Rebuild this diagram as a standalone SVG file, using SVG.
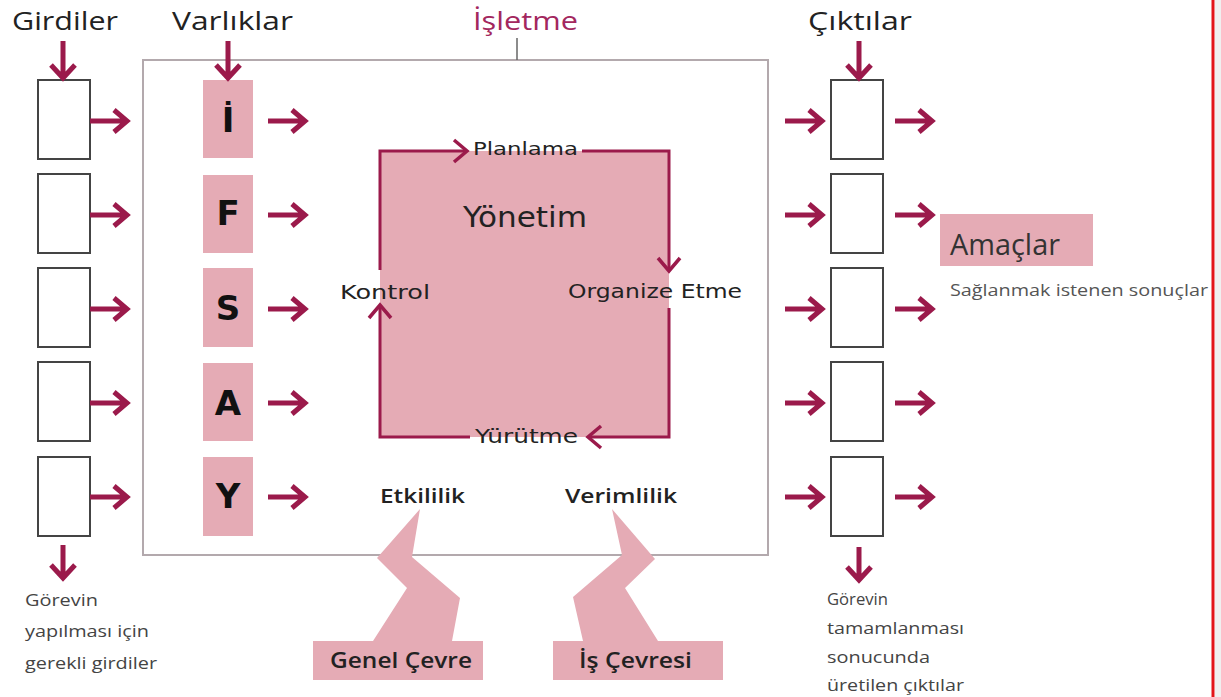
<svg xmlns="http://www.w3.org/2000/svg" xmlns:xlink="http://www.w3.org/1999/xlink" width="1221" height="697" viewBox="0 0 1221 697">
<style>
.arw{fill:none;stroke:#9b1a4b;stroke-width:5;stroke-linejoin:miter;stroke-linecap:butt}
.arwt{fill:none;stroke:#9b1a4b;stroke-width:3.5;stroke-linejoin:miter}
.box{fill:#fff;stroke:#444;stroke-width:2}
.pink{fill:#e5abb5}
.hd{font-family:"Open Sans","Liberation Sans",sans-serif;font-size:26px;fill:#222}
.let{font-family:"DejaVu Sans",Verdana,sans-serif;font-weight:bold;font-size:34px;fill:#111;text-anchor:middle}
.mg{font-family:"DejaVu Sans",Verdana,sans-serif;font-size:19px;fill:#222}
.lab{font-family:"Open Sans","Liberation Sans",sans-serif;font-weight:600;font-size:20px;fill:#222}
.sm{font-family:"Open Sans","Liberation Sans",sans-serif;font-size:16px;fill:#444}
.sq{fill:none;stroke:#9b1a4b;stroke-width:3}
</style>
<defs>
<path id="arrR" class="arw" d="M-37,0 L-3,0 M-13,-11 L0,0 L-13,11"/>
<path id="arrD" class="arw" d="M0,-37 L0,-3 M-12,-13 L0,0 L12,-13"/>
<path id="arrDs" class="arw" d="M0,-33 L0,-3 M-12,-13 L0,0 L12,-13"/>
</defs>
<rect x="0" y="0" width="1221" height="697" fill="#fff"/>
<rect x="1215" y="0" width="6" height="697" fill="#f0f0f0"/>
<line x1="1213" y1="0" x2="1213" y2="697" stroke="#e3161b" stroke-width="3"/>

<g id="isletme">
<rect x="143" y="60" width="625" height="495" fill="none" stroke="#b3a9ad" stroke-width="2"/>
<line x1="517" y1="38" x2="517" y2="60" stroke="#666" stroke-width="1.5"/>
<text x="473" y="30" class="hd" style="fill:#a3275e" textLength="105" lengthAdjust="spacingAndGlyphs">İşletme</text>
</g>

<g id="headers">
<text x="12" y="30" class="hd" textLength="106" lengthAdjust="spacingAndGlyphs">Girdiler</text>
<text x="172" y="30" class="hd" textLength="121" lengthAdjust="spacingAndGlyphs">Varlıklar</text>
<text x="808" y="30" class="hd" textLength="104" lengthAdjust="spacingAndGlyphs">Çıktılar</text>
</g>

<g id="girdiler">
<rect class="box" x="38" y="80" width="52" height="79"/>
<rect class="box" x="38" y="174" width="52" height="79"/>
<rect class="box" x="38" y="268" width="52" height="79"/>
<rect class="box" x="38" y="362" width="52" height="79"/>
<rect class="box" x="38" y="457" width="52" height="79"/>
</g>

<g id="varliklar">
<rect class="pink" x="203" y="80" width="50" height="78"/>
<rect class="pink" x="203" y="175" width="50" height="78"/>
<rect class="pink" x="203" y="268" width="50" height="79"/>
<rect class="pink" x="203" y="363" width="50" height="78"/>
<rect class="pink" x="203" y="457" width="50" height="79"/>
<text class="let" x="228" y="132">İ</text>
<text class="let" x="228" y="225">F</text>
<text class="let" x="228" y="320">S</text>
<text class="let" x="228" y="415">A</text>
<text class="let" x="228" y="508">Y</text>
</g>

<g id="ciktilar">
<rect class="box" x="831" y="80" width="52" height="79"/>
<rect class="box" x="831" y="174" width="52" height="79"/>
<rect class="box" x="831" y="268" width="52" height="79"/>
<rect class="box" x="831" y="362" width="52" height="79"/>
<rect class="box" x="831" y="457" width="52" height="79"/>
</g>

<g id="yonetim">
<rect class="pink" x="380" y="151" width="289" height="286"/>
<text x="463" y="227" class="mg" style="font-size:28px" textLength="124" lengthAdjust="spacingAndGlyphs">Yönetim</text>
<text x="473" y="155" class="mg" style="font-size:18px" textLength="105" lengthAdjust="spacingAndGlyphs">Planlama</text>
<text x="568" y="298" class="mg" textLength="174" lengthAdjust="spacingAndGlyphs">Organize Etme</text>
<text x="475" y="443" class="mg" textLength="103" lengthAdjust="spacingAndGlyphs">Yürütme</text>
<text x="340" y="299" class="mg" textLength="90" lengthAdjust="spacingAndGlyphs">Kontrol</text>
</g>

<g id="amaclar">
<rect class="pink" x="940" y="214" width="153" height="52"/>
<text x="950" y="255" class="hd" style="font-size:29px;fill:#333" textLength="110" lengthAdjust="spacingAndGlyphs">Amaçlar</text>
<text x="950" y="296" class="sm" style="fill:#555" textLength="258" lengthAdjust="spacingAndGlyphs">Sağlanmak istenen sonuçlar</text>
</g>

<g id="genel-cevre">
<polygon class="pink" points="420,509 377,558 407,588 373,641 452,641 460,598 412,557"/>
<rect class="pink" x="313" y="641" width="170" height="39"/>
<text x="330" y="668" class="lab" style="font-size:21px" textLength="142" lengthAdjust="spacingAndGlyphs">Genel Çevre</text>
</g>

<g id="is-cevresi">
<polygon class="pink" points="612,509 655,559 625,588 658,641 583,641 573,597 622,555"/>
<rect class="pink" x="553" y="641" width="170" height="39"/>
<text x="579" y="668" class="lab" style="font-size:21px" textLength="113" lengthAdjust="spacingAndGlyphs">İş Çevresi</text>
</g>

<g id="etkililik">
<text x="380" y="503" class="lab" textLength="85" lengthAdjust="spacingAndGlyphs">Etkililik</text>
</g>
<g id="verimlilik">
<text x="565" y="503" class="lab" textLength="112" lengthAdjust="spacingAndGlyphs">Verimlilik</text>
</g>

<g id="notes">
<text class="sm" style="font-size:17px" x="25" y="606" textLength="73" lengthAdjust="spacingAndGlyphs">Görevin</text>
<text class="sm" style="font-size:17px" x="25" y="637" textLength="124" lengthAdjust="spacingAndGlyphs">yapılması için</text>
<text class="sm" style="font-size:17px" x="25" y="669" textLength="132" lengthAdjust="spacingAndGlyphs">gerekli girdiler</text>
<text class="sm" x="827" y="605" textLength="61" lengthAdjust="spacingAndGlyphs">Görevin</text>
<text class="sm" x="827" y="634" textLength="137" lengthAdjust="spacingAndGlyphs">tamamlanması</text>
<text class="sm" x="827" y="663" textLength="103" lengthAdjust="spacingAndGlyphs">sonucunda</text>
<text class="sm" x="827" y="691" textLength="137" lengthAdjust="spacingAndGlyphs">üretilen çıktılar</text>
</g>

<g id="connectors">
<use href="#arrD" x="63" y="78"/>
<use href="#arrD" x="228" y="78"/>
<use href="#arrD" x="859" y="78"/>
<use href="#arrDs" x="63" y="578"/>
<use href="#arrDs" x="859" y="580"/>

<use href="#arrR" x="127" y="121"/>
<use href="#arrR" x="127" y="215"/>
<use href="#arrR" x="127" y="309"/>
<use href="#arrR" x="127" y="403"/>
<use href="#arrR" x="127" y="497"/>

<use href="#arrR" x="305" y="121"/>
<use href="#arrR" x="305" y="215"/>
<use href="#arrR" x="305" y="309"/>
<use href="#arrR" x="305" y="403"/>
<use href="#arrR" x="305" y="497"/>

<use href="#arrR" x="822" y="121"/>
<use href="#arrR" x="822" y="215"/>
<use href="#arrR" x="822" y="309"/>
<use href="#arrR" x="822" y="403"/>
<use href="#arrR" x="822" y="497"/>

<use href="#arrR" x="932" y="121"/>
<use href="#arrR" x="932" y="215"/>
<use href="#arrR" x="932" y="309"/>
<use href="#arrR" x="932" y="403"/>
<use href="#arrR" x="932" y="497"/>

<path class="sq" d="M380,270 L380,151 L465,151"/>
<path class="arwt" d="M454,140 L467,151 L454,162"/>
<path class="sq" d="M582,151 L669,151 L669,269"/>
<path class="arwt" d="M658,258 L669,271 L680,258"/>
<path class="sq" d="M669,308 L669,437 L590,437"/>
<path class="arwt" d="M601,426 L588,437 L601,448"/>
<path class="sq" d="M470,437 L380,437 L380,307"/>
<path class="arwt" d="M369,318 L380,305 L391,318"/>
</g>
</svg>
